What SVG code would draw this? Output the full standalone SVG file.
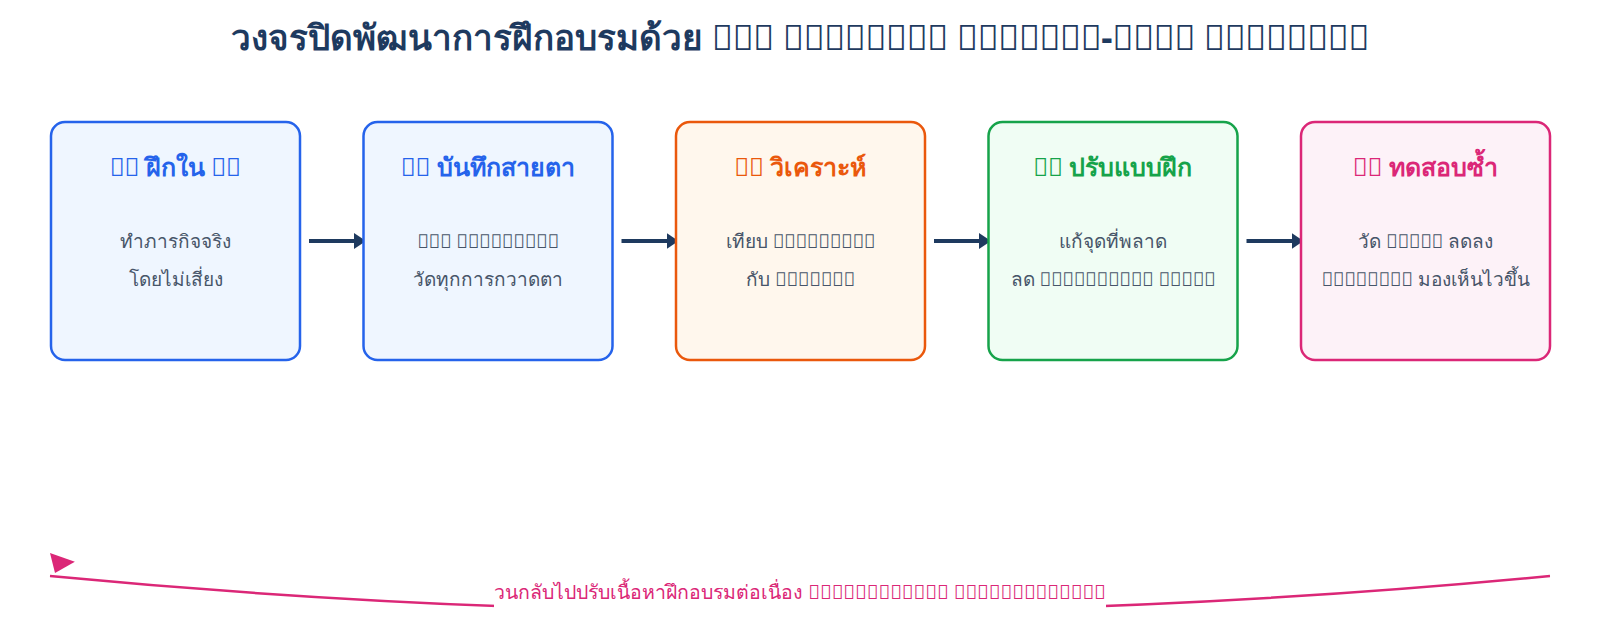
<svg xmlns="http://www.w3.org/2000/svg" width="1600" height="620" viewBox="0 0 1600 620">
<defs>
<style>
text{font-family:"Noto Sans","Liberation Sans",sans-serif;text-anchor:middle}
.title{font-size:35px;font-weight:700;fill:#1e3a5f}
.box{stroke-width:2.5}
.h{font-size:25px;font-weight:700}
.b{font-size:19px;fill:#475569}
.blue rect{fill:#eff6ff;stroke:#2563eb}
.blue .h{fill:#2563eb}
.orange rect{fill:#fff7ed;stroke:#ea580c}
.orange .h{fill:#ea580c}
.green rect{fill:#f0fdf4;stroke:#16a34a}
.green .h{fill:#16a34a}
.pink rect{fill:#fdf2f8;stroke:#db2777}
.pink .h{fill:#db2777}
.flow{stroke:#1e3a5f;stroke-width:4;fill:none}
.loop{stroke:#db2777;stroke-width:2.5;fill:none}
.loopText{font-size:19.5px;fill:#db2777}
</style>
<marker id="ah" markerUnits="userSpaceOnUse" markerWidth="12" markerHeight="16" viewBox="0 0 12 16" refX="12" refY="8" orient="auto">
<path d="M0,0 L12,8 L0,16 Z" fill="#1e3a5f"/>
</marker>
<marker id="lh" markerUnits="userSpaceOnUse" markerWidth="40" markerHeight="40" viewBox="-30 0 40 30" refX="0" refY="0" orient="auto" overflow="visible">
<path d="M2.2,22.8 L-23.4,16.6 L-4.7,3.5 Z" fill="#db2777"/>
</marker>
</defs>
<rect width="1600" height="620" fill="#ffffff"/>
<text class="title" x="800" y="50">วงจรปิดพัฒนาการฝึกอบรมด้วย &#xE000;&#xE000;&#xE000; &#xE000;&#xE000;&#xE000;&#xE000;&#xE000;&#xE000;&#xE000;&#xE000; &#xE000;&#xE000;&#xE000;&#xE000;&#xE000;&#xE000;&#xE000;-&#xE000;&#xE000;&#xE000;&#xE000; &#xE000;&#xE000;&#xE000;&#xE000;&#xE000;&#xE000;&#xE000;&#xE000;</text>
<g id="connectors">
<line class="flow" x1="309" y1="241" x2="366" y2="241" marker-end="url(#ah)"/>
<line class="flow" x1="621.5" y1="241" x2="678.5" y2="241" marker-end="url(#ah)"/>
<line class="flow" x1="934" y1="241" x2="991" y2="241" marker-end="url(#ah)"/>
<line class="flow" x1="1246.5" y1="241" x2="1303.5" y2="241" marker-end="url(#ah)"/>
<path id="loop" class="loop" d="M1550,576 Q800,648 50,576" marker-end="url(#lh)"/>
</g>
<g id="node1" class="blue">
<rect class="box" x="51" y="122" width="249" height="238" rx="14"/>
<text class="h" x="175.5" y="176">&#xE000;&#xE000; ฝึกใน &#xE000;&#xE000;</text>
<text class="b" x="175.5" y="248">ทำภารกิจจริง</text>
<text class="b" x="175.5" y="286">โดยไม่เสี่ยง</text>
</g>
<g id="node2" class="blue">
<rect class="box" x="363.5" y="122" width="249" height="238" rx="14"/>
<text class="h" x="488" y="176">&#xE000;&#xE000; บันทึกสายตา</text>
<text class="b" x="488" y="248">&#xE000;&#xE000;&#xE000; &#xE000;&#xE000;&#xE000;&#xE000;&#xE000;&#xE000;&#xE000;&#xE000;&#xE000;</text>
<text class="b" x="488" y="286">วัดทุกการกวาดตา</text>
</g>
<g id="node3" class="orange">
<rect class="box" x="676" y="122" width="249" height="238" rx="14"/>
<text class="h" x="800.5" y="176">&#xE000;&#xE000; วิเคราะห์</text>
<text class="b" x="800.5" y="248">เทียบ &#xE000;&#xE000;&#xE000;&#xE000;&#xE000;&#xE000;&#xE000;&#xE000;&#xE000;</text>
<text class="b" x="800.5" y="286">กับ &#xE000;&#xE000;&#xE000;&#xE000;&#xE000;&#xE000;&#xE000;</text>
</g>
<g id="node4" class="green">
<rect class="box" x="988.5" y="122" width="249" height="238" rx="14"/>
<text class="h" x="1113" y="176">&#xE000;&#xE000; ปรับแบบฝึก</text>
<text class="b" x="1113" y="248">แก้จุดที่พลาด</text>
<text class="b" x="1113" y="286">ลด &#xE000;&#xE000;&#xE000;&#xE000;&#xE000;&#xE000;&#xE000;&#xE000;&#xE000;&#xE000; &#xE000;&#xE000;&#xE000;&#xE000;&#xE000;</text>
</g>
<g id="node5" class="pink">
<rect class="box" x="1301" y="122" width="249" height="238" rx="14"/>
<text class="h" x="1425.5" y="176">&#xE000;&#xE000; ทดสอบซ้ำ</text>
<text class="b" x="1425.5" y="248">วัด &#xE000;&#xE000;&#xE000;&#xE000;&#xE000; ลดลง</text>
<text class="b" x="1425.5" y="286">&#xE000;&#xE000;&#xE000;&#xE000;&#xE000;&#xE000;&#xE000;&#xE000; มองเห็นไวขึ้น</text>
</g>
<g id="loopLabel">
<rect x="494" y="578" width="612" height="40" fill="#ffffff"/>
<text class="loopText" x="800" y="599">วนกลับไปปรับเนื้อหาฝึกอบรมต่อเนื่อง &#xE000;&#xE000;&#xE000;&#xE000;&#xE000;&#xE000;&#xE000;&#xE000;&#xE000;&#xE000;&#xE000;&#xE000; &#xE000;&#xE000;&#xE000;&#xE000;&#xE000;&#xE000;&#xE000;&#xE000;&#xE000;&#xE000;&#xE000;&#xE000;&#xE000;</text>
</g>
</svg>
